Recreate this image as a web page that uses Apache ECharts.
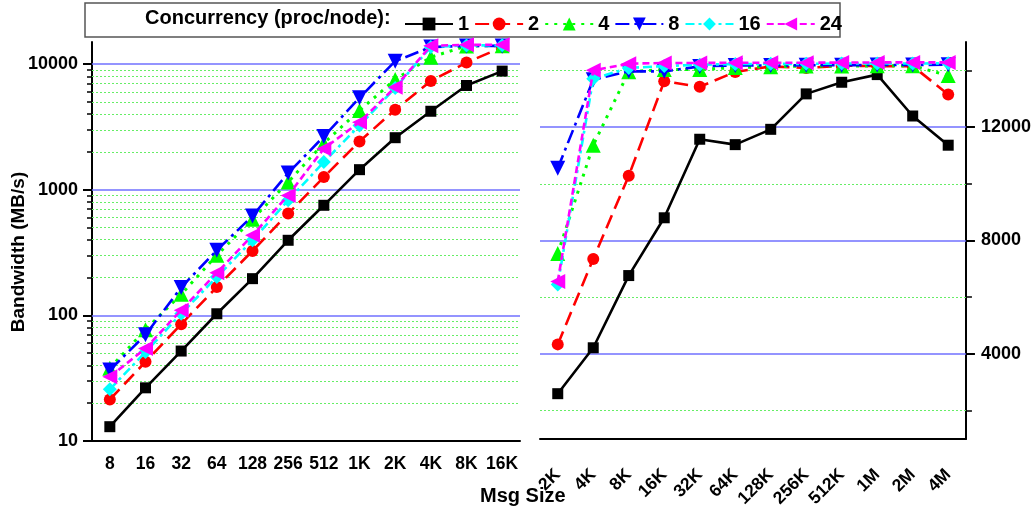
<!DOCTYPE html>
<html>
<head>
<meta charset="utf-8">
<title>Bandwidth vs Msg Size</title>
<script src="https://cdn.jsdelivr.net/npm/echarts@6/dist/echarts.min.js"></script>
<style>
  html, body { margin: 0; padding: 0; background: #fff; }
  #main { width: 1034px; height: 510px; }
</style>
</head>
<body>
<div id="main"></div>
<script>
// message sizes, left panel uses 8..16K, right panel 2K..4M
var sizes = ['8', '16', '32', '64', '128', '256', '512', '1K', '2K', '4K', '8K', '16K',
             '32K', '64K', '128K', '256K', '512K', '1M', '2M', '4M'];
var procs = ['1', '2', '4', '8', '16', '24'];

// bandwidth (MB/s) per concurrency
var bw1  = [13, 26.5, 52, 103, 196, 396, 752, 1445, 2596, 4215, 6762, 8800,
            11570, 11380, 11920, 13170, 13580, 13850, 12390, 11360];
var bw2  = [21.4, 42.7, 85, 168, 326, 646, 1262, 2426, 4335, 7350, 10280, 13615,
            13420, 13945, 14140, 14085, 14165, 14150, 14150, 13150];
var bw4  = [38, 77, 147, 301, 582, 1151, 2350, 4276, 7540, 11360, 13950, 14030,
            14030, 14100, 14130, 14150, 14150, 14160, 14160, 13815];
var bw8  = [36.7, 70, 167, 330, 618, 1358, 2656, 5395, 10550, 13670, 13965, 13965,
            14140, 14170, 14170, 14180, 14180, 14190, 14190, 14200];
var bw16 = [25.8, 51, 103, 202, 396, 824, 1660, 3250, 6450, 13700, 14085, 14150,
            14200, 14220, 14230, 14230, 14240, 14240, 14240, 14250];
var bw24 = [32.4, 54.6, 110, 218, 434, 902, 2124, 3451, 6550, 14000, 14235, 14260,
            14260, 14270, 14270, 14270, 14275, 14280, 14280, 14280];
var bwAll = [bw1, bw2, bw4, bw8, bw16, bw24];

var leftEnd = 12;    // 8 .. 16K
var rightStart = 8;  // 2K .. 4M

// axis ticks / grid lines
var logMajor = [10, 100, 1000, 10000];
var logMinor = [20, 30, 40, 50, 60, 70, 80, 90,
                200, 300, 400, 500, 600, 700, 800, 900,
                2000, 3000, 4000, 5000, 6000, 7000, 8000, 9000];
var linMajor = [4000, 8000, 12000];
var linMinor = [2000, 6000, 10000, 14000];

var FONT = 'Liberation Sans, Arial, sans-serif';

// look of each concurrency line
var looks = [
  { color: '#000000', symbol: 'rect',     size: 11, rotate: 0,   dash: 'solid' },
  { color: '#ff0000', symbol: 'circle',   size: 12, rotate: 0,   dash: [14, 7] },
  { color: '#00ff00', symbol: 'triangle', size: 15, rotate: 0,   dash: [3, 6] },
  { color: '#0000ff', symbol: 'triangle', size: 15, rotate: 180, dash: [14, 5, 3, 5] },
  { color: '#00ffff', symbol: 'diamond',  size: 14, rotate: 0,   dash: [9, 4, 3, 4] },
  { color: '#ff00ff', symbol: 'triangle', size: 15, rotate: 90,  dash: [7, 4] }
];

var chart = echarts.init(document.getElementById('main'));

function gridLines(major, minor) {
  var data = [];
  minor.forEach(function (v) {
    data.push({ yAxis: v, lineStyle: { color: '#66ee66', width: 1, type: [2, 2] } });
  });
  major.forEach(function (v) {
    data.push({ yAxis: v, lineStyle: { color: '#7070ff', width: 1.5, type: 'solid' } });
  });
  return { silent: true, symbol: 'none', z: 1, label: { show: false }, data: data };
}

function makeSeries(i, values, side) {
  var lk = looks[i];
  var s = {
    name: procs[i],
    type: 'line',
    xAxisIndex: side,
    yAxisIndex: side,
    data: values,
    symbol: lk.symbol,
    symbolSize: lk.size,
    symbolRotate: lk.rotate,
    showAllSymbol: true,
    z: 2 + i,
    itemStyle: { color: lk.color, borderWidth: 0 },
    lineStyle: { color: lk.color, width: i === 2 ? 3 : 2.6, type: lk.dash },
    emphasis: { disabled: true },
    animation: false
  };
  if (i === 0) {
    s.markLine = side === 0 ? gridLines(logMajor.slice(1), logMinor) : gridLines(linMajor, linMinor);
  }
  return s;
}

var series = [];
bwAll.forEach(function (arr, i) {
  series.push(makeSeries(i, arr.slice(0, leftEnd), 0));
  series.push(makeSeries(i, arr.slice(rightStart), 1));
});

function plain(v) { return String(v); }

var xLabel = { color: '#000', fontFamily: FONT, fontWeight: 'bold', fontSize: 17.5 };
var yLabel = { color: '#000', fontFamily: FONT, fontWeight: 'bold', fontSize: 18 };
var axisBlack = { lineStyle: { color: '#000', width: 2 } };

var option = {
  animation: false,
  textStyle: { fontFamily: FONT },
  grid: [
    { left: 92, top: 42, width: 428, height: 399 },
    { left: 540, top: 42, width: 426, height: 399 }
  ],
  legend: {
    data: procs,
    left: 399,
    top: 9,
    itemWidth: 48,
    itemHeight: 16,
    itemGap: 5,
    textStyle: { color: '#000', fontFamily: FONT, fontWeight: 'bold', fontSize: 20 }
  },
  graphic: [
    { type: 'rect', shape: { x: 85, y: 3, width: 755, height: 34 },
      style: { fill: 'none', stroke: '#555', lineWidth: 1.5 } },
    { type: 'text', left: 145, top: 8,
      style: { text: 'Concurrency (proc/node):', fill: '#000', font: 'bold 20px ' + FONT } },
    { type: 'text', left: 480, top: 486,
      style: { text: 'Msg Size', fill: '#000', font: 'bold 20px ' + FONT } },
    { type: 'text', x: 19, y: 252, rotation: Math.PI / 2,
      style: { text: 'Bandwidth (MB/s)', fill: '#000', font: 'bold 19px ' + FONT,
               align: 'center', verticalAlign: 'middle' } }
  ],
  xAxis: [
    { type: 'category', gridIndex: 0, data: sizes.slice(0, leftEnd), boundaryGap: true,
      axisLine: axisBlack,
      axisTick: { alignWithLabel: true, length: 9, lineStyle: { color: '#000', width: 2 } },
      axisLabel: Object.assign({ margin: 14, interval: 0 }, xLabel) },
    { type: 'category', gridIndex: 1, data: sizes.slice(rightStart), boundaryGap: true,
      axisLine: axisBlack,
      axisTick: { alignWithLabel: true, length: 9, lineStyle: { color: '#000', width: 2 } },
      axisLabel: Object.assign({ margin: 33, interval: 0, rotate: 45 }, xLabel) },
    // minor ticks between categories
    { type: 'category', gridIndex: 0, position: 'bottom', data: sizes.slice(0, leftEnd),
      axisLine: { show: false }, axisLabel: { show: false },
      axisTick: { length: 3, lineStyle: { color: '#000', width: 1.5 } } },
    { type: 'category', gridIndex: 1, position: 'bottom', data: sizes.slice(rightStart),
      axisLine: { show: false }, axisLabel: { show: false },
      axisTick: { length: 3, lineStyle: { color: '#000', width: 1.5 } } }
  ],
  yAxis: [
    { type: 'log', gridIndex: 0, min: 10, max: 15000, position: 'left',
      axisLine: Object.assign({ show: true }, axisBlack),
      axisTick: { show: true, length: 9, customValues: logMajor, lineStyle: { color: '#000', width: 2 } },
      axisLabel: Object.assign({ margin: 14, customValues: logMajor, formatter: plain }, yLabel),
      splitLine: { show: false } },
    { type: 'value', gridIndex: 1, min: 1000, max: 15000, position: 'right',
      axisLine: Object.assign({ show: true }, axisBlack),
      axisTick: { show: true, length: 9, customValues: linMajor, lineStyle: { color: '#000', width: 2 } },
      axisLabel: Object.assign({ margin: 15, customValues: linMajor, formatter: plain }, yLabel),
      splitLine: { show: false } },
    // minor ticks
    { type: 'log', gridIndex: 0, min: 10, max: 15000, position: 'left',
      axisLine: { show: false }, axisLabel: { show: false }, splitLine: { show: false },
      axisTick: { show: true, length: 5, customValues: logMinor, lineStyle: { color: '#000', width: 1.5 } } },
    { type: 'value', gridIndex: 1, min: 1000, max: 15000, position: 'right',
      axisLine: { show: false }, axisLabel: { show: false }, splitLine: { show: false },
      axisTick: { show: true, length: 6, customValues: linMinor, lineStyle: { color: '#000', width: 1.5 } } }
  ],
  series: series
};

chart.setOption(option);
</script>
</body>
</html>
